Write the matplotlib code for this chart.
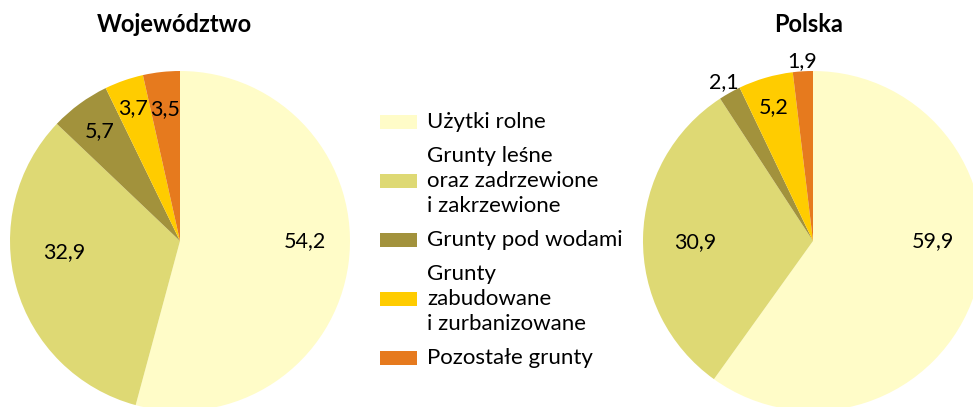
import matplotlib.pyplot as plt
from matplotlib.patches import Rectangle
import numpy as np

plt.rcParams['font.family'] = ['Lato', 'DejaVu Sans']

categories = ["Użytki rolne",
              "Grunty leśne\noraz zadrzewione\ni zakrzewione",
              "Grunty pod wodami",
              "Grunty\nzabudowane\ni zurbanizowane",
              "Pozostałe grunty"]
woj_values = [54.2, 32.9, 5.7, 3.7, 3.5]
pl_values = [59.9, 30.9, 2.1, 5.2, 1.9]
titles = ["Województwo", "Polska"]
colors = ["#FFFCC8", "#DED974", "#A2923C", "#FFCC00", "#E67A1E"]

# label placement (radial distance, angle nudge in degrees), tuned by eye
woj_dist = [0.735, 0.685, 0.80, 0.83, 0.78]
woj_nudge = [7.6, -10.0, 0, 0, 0]
pl_dist = [0.705, 0.69, 1.07, 0.82, 1.06]
pl_nudge = [17.8, 2.0, 0, 0, 0]

W, H = 973, 407
fig = plt.figure(figsize=(W / 100, H / 100), dpi=100)


def pie_at(cx, cy, r, values, dists, nudges, title, tx):
    ax = fig.add_axes([(cx - r) / W, (H - cy - r) / H, 2 * r / W, 2 * r / H])
    wedges, _ = ax.pie(values, colors=colors, startangle=90, counterclock=False,
                       radius=1.0, wedgeprops=dict(linewidth=0))
    for w, v, d, nd in zip(wedges, values, dists, nudges):
        mid = np.deg2rad((w.theta1 + w.theta2) / 2 + nd)
        ax.text(d * np.cos(mid), d * np.sin(mid), f"{v:.1f}".replace(".", ","),
                ha="center", va="center", fontsize=15.5, color="black")
    ax.set_xlim(-1, 1)
    ax.set_ylim(-1, 1)
    ax.set_aspect("equal")
    ax.axis("off")
    fig.text(tx / W, 1 - 25 / H, title, ha="center", va="center",
             fontsize=17, fontweight="bold")
    return ax


pie_at(180, 241, 170, woj_values, woj_dist, woj_nudge, titles[0], 174)
pie_at(813, 241, 170, pl_values, pl_dist, pl_nudge, titles[1], 809)

# legend drawn by hand so multi-line labels keep the patch centered
lax = fig.add_axes([0, 0, 1, 1])
lax.set_xlim(0, W)
lax.set_ylim(H, 0)
lax.axis("off")
lh = 26
gap = 33
y = 122
prev_lines = 1
for i, (lab, c) in enumerate(zip(categories, colors)):
    n = lab.count("\n") + 1
    if i > 0:
        y += (prev_lines - 1) / 2 * lh + gap + (n - 1) / 2 * lh
    lax.add_patch(Rectangle((380, y - 7), 37, 14, color=c, linewidth=0))
    lax.text(427, y, lab, ha="left", va="center", fontsize=16,
             linespacing=1.32)
    prev_lines = n

fig.savefig("out.png", dpi=100)
